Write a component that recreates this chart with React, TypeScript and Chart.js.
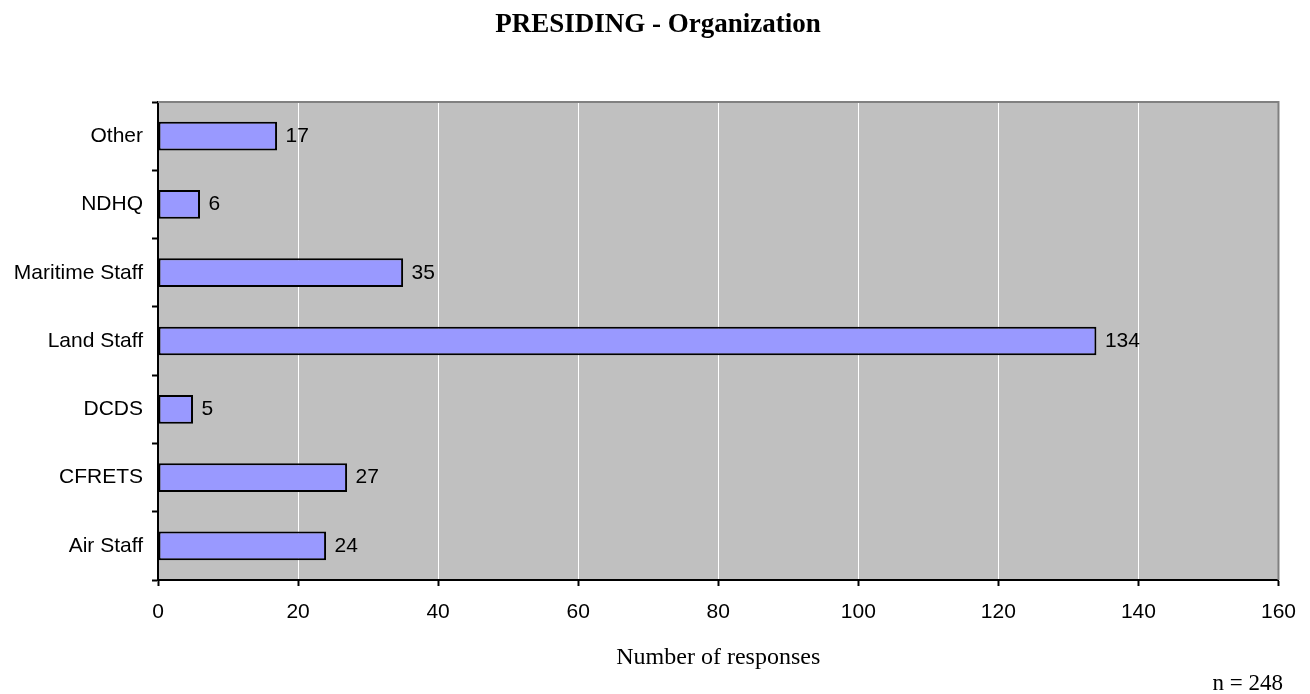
import React, { useEffect, useRef } from "react";
import { Chart, registerables } from "chart.js";

Chart.register(...registerables);

const categories = ["Other", "NDHQ", "Maritime Staff", "Land Staff", "DCDS", "CFRETS", "Air Staff"];
const responses = [17, 6, 35, 134, 5, 27, 24];
const chartTitle = "PRESIDING - Organization";
const xAxisTitle = "Number of responses";
const sampleNote = "n = 248";
const xMin = 0;
const xMax = 160;
const xStep = 20;

const SANS = "'Liberation Sans', Arial, sans-serif";
const SERIF = "'Liberation Serif', 'Times New Roman', serif";

const decorPlugin = {
  id: "decor",
  beforeDraw(chart: any) {
    const { ctx, chartArea } = chart;
    ctx.save();
    ctx.fillStyle = "#ffffff";
    ctx.fillRect(0, 0, chart.width, chart.height);
    ctx.fillStyle = "#C0C0C0";
    ctx.fillRect(chartArea.left, chartArea.top, chartArea.right - chartArea.left, chartArea.bottom - chartArea.top);
    ctx.restore();
  },
  beforeDatasetsDraw(chart: any) {
    const { ctx, chartArea } = chart;
    ctx.save();
    ctx.strokeStyle = "#808080";
    ctx.lineWidth = 2;
    ctx.beginPath();
    ctx.moveTo(chartArea.left, chartArea.top);
    ctx.lineTo(chartArea.right, chartArea.top);
    ctx.lineTo(chartArea.right, chartArea.bottom);
    ctx.stroke();
    ctx.restore();
  },
  afterDatasetsDraw(chart: any) {
    const { ctx, chartArea } = chart;
    const meta = chart.getDatasetMeta(0);
    ctx.save();
    ctx.fillStyle = "#000";
    ctx.font = `21px ${SANS}`;
    ctx.textAlign = "left";
    ctx.textBaseline = "middle";
    meta.data.forEach((el: any, i: number) => {
      ctx.fillText(String(chart.data.datasets[0].data[i]), el.x + 8.5, el.y);
    });
    // titles
    ctx.textBaseline = "alphabetic";
    ctx.textAlign = "center";
    ctx.font = `bold 27px ${SERIF}`;
    ctx.fillText(chartTitle, 658, 32);
    ctx.font = `24px ${SERIF}`;
    ctx.fillText(xAxisTitle, (chartArea.left + chartArea.right) / 2, 664);
    ctx.textAlign = "right";
    ctx.font = `23px ${SERIF}`;
    ctx.fillText(sampleNote, 1283, 690);
    ctx.restore();
  },
};

export default function App() {
  const canvasRef = useRef<HTMLCanvasElement | null>(null);

  useEffect(() => {
    if (!canvasRef.current) return;
    const chart = new Chart(canvasRef.current, {
      type: "bar",
      data: {
        labels: categories,
        datasets: [
          {
            data: responses,
            backgroundColor: "#9999FF",
            borderColor: "#000000",
            borderWidth: 2,
            borderSkipped: false,
            categoryPercentage: 1,
            barPercentage: 0.42,
          },
        ],
      },
      options: {
        indexAxis: "y",
        responsive: false,
        animation: false,
        devicePixelRatio: 1,
        layout: { padding: { top: 102, right: 31, bottom: 0, left: 0 } },
        plugins: {
          legend: { display: false },
          title: { display: false },
          tooltip: { enabled: false },
        },
        scales: {
          x: {
            type: "linear",
            min: xMin,
            max: xMax,
            afterFit(scale: any) {
              scale.height = 114;
            },
            ticks: {
              stepSize: xStep,
              color: "#000",
              font: { family: SANS, size: 21 },
              padding: 14,
            },
            grid: {
              color: (ctx: any) =>
                ctx.tick && (ctx.tick.value === xMin || ctx.tick.value === xMax) ? "rgba(0,0,0,0)" : "#ffffff",
              lineWidth: 1,
              tickLength: 6,
              tickColor: "#000",
              tickWidth: 2,
            },
            border: { color: "#000", width: 2 },
          },
          y: {
            type: "category",
            afterFit(scale: any) {
              scale.width = 158;
            },
            ticks: {
              color: "#000",
              font: { family: SANS, size: 21 },
              padding: 9,
            },
            grid: {
              drawOnChartArea: false,
              offset: true,
              tickLength: 6,
              tickColor: "#000",
              tickWidth: 2,
            },
            border: { color: "#000", width: 2 },
          },
        },
      },
      plugins: [decorPlugin],
    } as any);
    return () => chart.destroy();
  }, []);

  return (
    <div style={{ position: "fixed", left: 0, top: 0, width: 1310, height: 694, background: "#fff" }}>
      <canvas ref={canvasRef} width={1310} height={694} style={{ display: "block" }} />
    </div>
  );
}
